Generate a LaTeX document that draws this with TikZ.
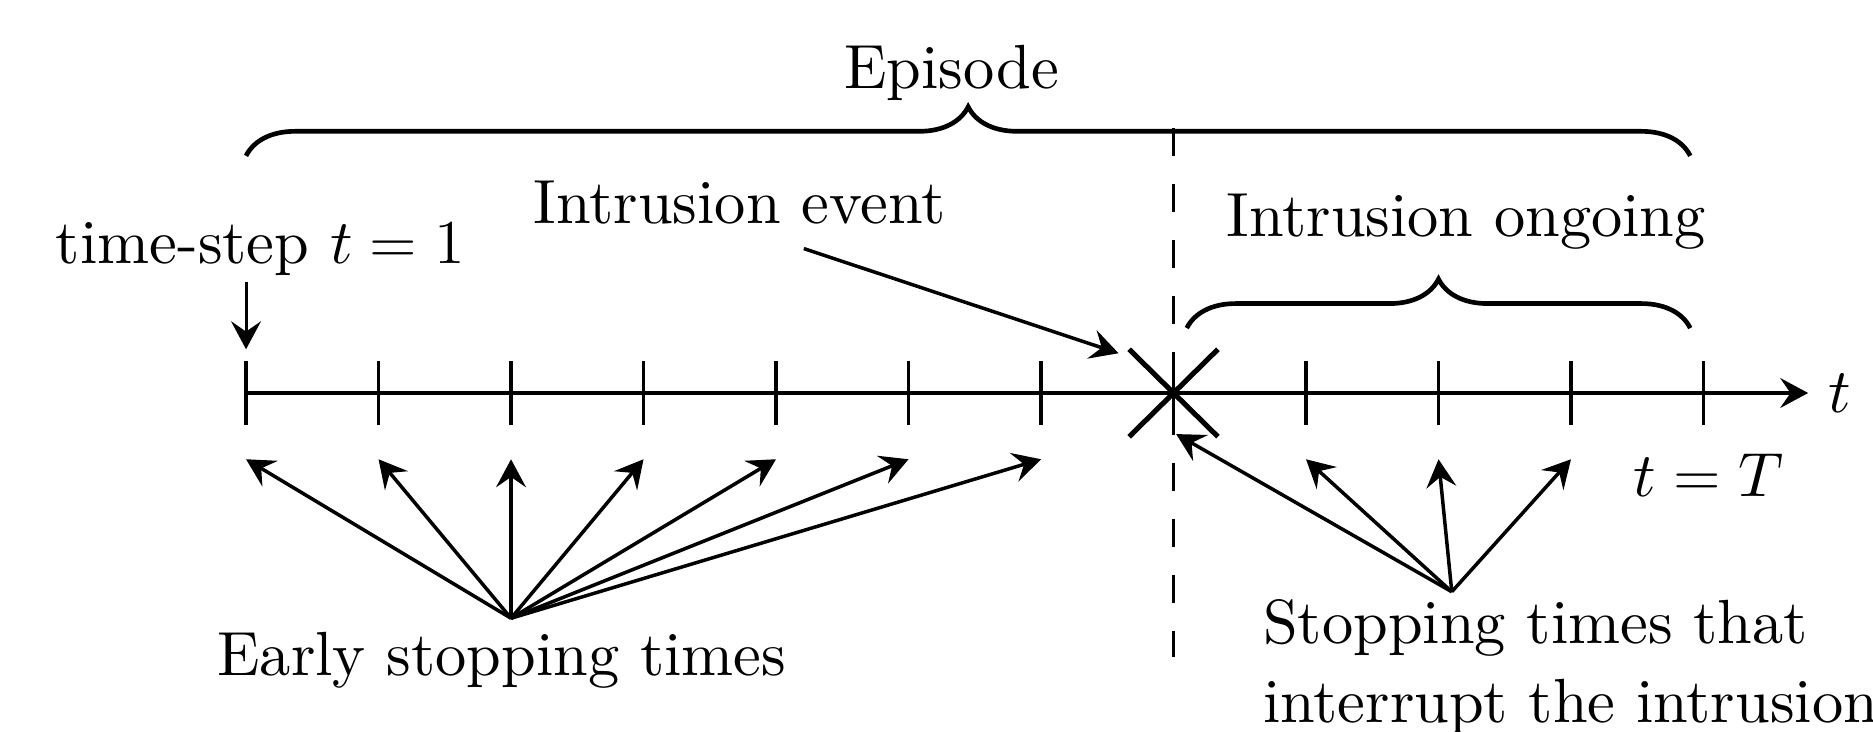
\RequirePackage{fix-cm}
\documentclass[tikz,border=0pt]{standalone}
\usepackage{fontspec}
\setmainfont{lmroman10-regular}[Extension=.otf, ItalicFont=lmroman10-italic, BoldFont=lmroman10-bold]
\DeclareFontShape{OML}{cmm}{m}{it}{<->cmmi10}{\skewchar\font'177}
\usetikzlibrary{arrows.meta,decorations.pathreplacing}
\begin{document}
\begin{tikzpicture}[x=1cm,y=1cm,
  lbl/.style={font=\fontsize{13.4pt}{17pt}\selectfont, inner sep=0pt},
  tip/.style={-{Stealth[length=6pt,width=6.4pt,inset=2.2pt]}, line width=0.75pt},
  bracestyle/.style={decorate, decoration={brace, amplitude=0.37cm}, line width=1pt},
  tickmark/.style={line width=0.72pt},
  crossline/.style={line width=1.1pt},
  divider/.style={line width=0.7pt, dash pattern=on 6pt off 6pt}
]
\useasboundingbox (-1.857,-2.558) rectangle (12.279,2.966);

% dashed divider
\coordinate (dtop) at (7,2.0);
\coordinate (dbot) at (7,-1.99);
\draw[divider] (dtop) -- (dbot);

% time axis
\coordinate (a0) at (0,0);
\coordinate (aend) at (11.79,0);
\draw[tip, line width=0.72pt] (a0) -- (aend) node[lbl, right=4pt] (tlab) {$t$};
\foreach \i in {0,...,11} \draw[tickmark] (\i,0.24) -- (\i,-0.24);

% intrusion cross
\coordinate (c1) at (6.665,0.33);
\coordinate (c2) at (7.335,-0.33);
\coordinate (c3) at (6.665,-0.33);
\coordinate (c4) at (7.335,0.33);
\draw[crossline] (c1) -- (c2);
\draw[crossline] (c3) -- (c4);

% braces
\coordinate (eb0) at (0,1.79);
\coordinate (eb1) at (10.9,1.79);
\draw[bracestyle] (eb0) -- (eb1);
\coordinate (ob0) at (7.1,0.49);
\coordinate (ob1) at (10.9,0.49);
\draw[bracestyle] (ob0) -- (ob1);

% labels
\node[lbl, anchor=base] (episode) at (5.325,2.30) {Episode};
\node[lbl, anchor=base] (ievent) at (3.725,1.28) {Intrusion event};
\node[lbl, anchor=base] (tstep) at (0.11,0.98) {time-step $t=1$};
\node[lbl, anchor=base] (ongoing) at (9.21,1.18) {Intrusion ongoing};
\node[lbl, anchor=base] (tT) at (11.04,-0.78) {$t=T$};
\node[lbl, anchor=base] (early) at (1.93,-2.13) {Early stopping times};
\node[lbl, anchor=base west, align=left] (interrupt) at (7.67,-2.49) {Stopping times that\\interrupt the intrusion};

% time-step arrow
\coordinate (ts0) at (0,0.84);
\coordinate (ts1) at (0,0.33);
\draw[tip, line width=0.65pt] (ts0) -- (ts1);

% intrusion event arrow
\coordinate (ie0) at (4.21,1.09);
\coordinate (ie1) at (6.585,0.30);
\draw[tip] (ie0) -- (ie1);

% early stopping fan
\coordinate (ef) at (2.0,-1.70);
\foreach \i in {0,...,6} {
  \coordinate (et\i) at (\i,-0.5);
  \draw[tip] (ef) -- (et\i);
}

% interrupting stopping fan
\coordinate (sf) at (9.1,-1.5);
\coordinate (st0) at (7.02,-0.31);
\coordinate (st1) at (8,-0.5);
\coordinate (st2) at (9,-0.5);
\coordinate (st3) at (10,-0.5);
\foreach \i in {0,...,3} \draw[tip] (sf) -- (st\i);
\end{tikzpicture}
\end{document}
